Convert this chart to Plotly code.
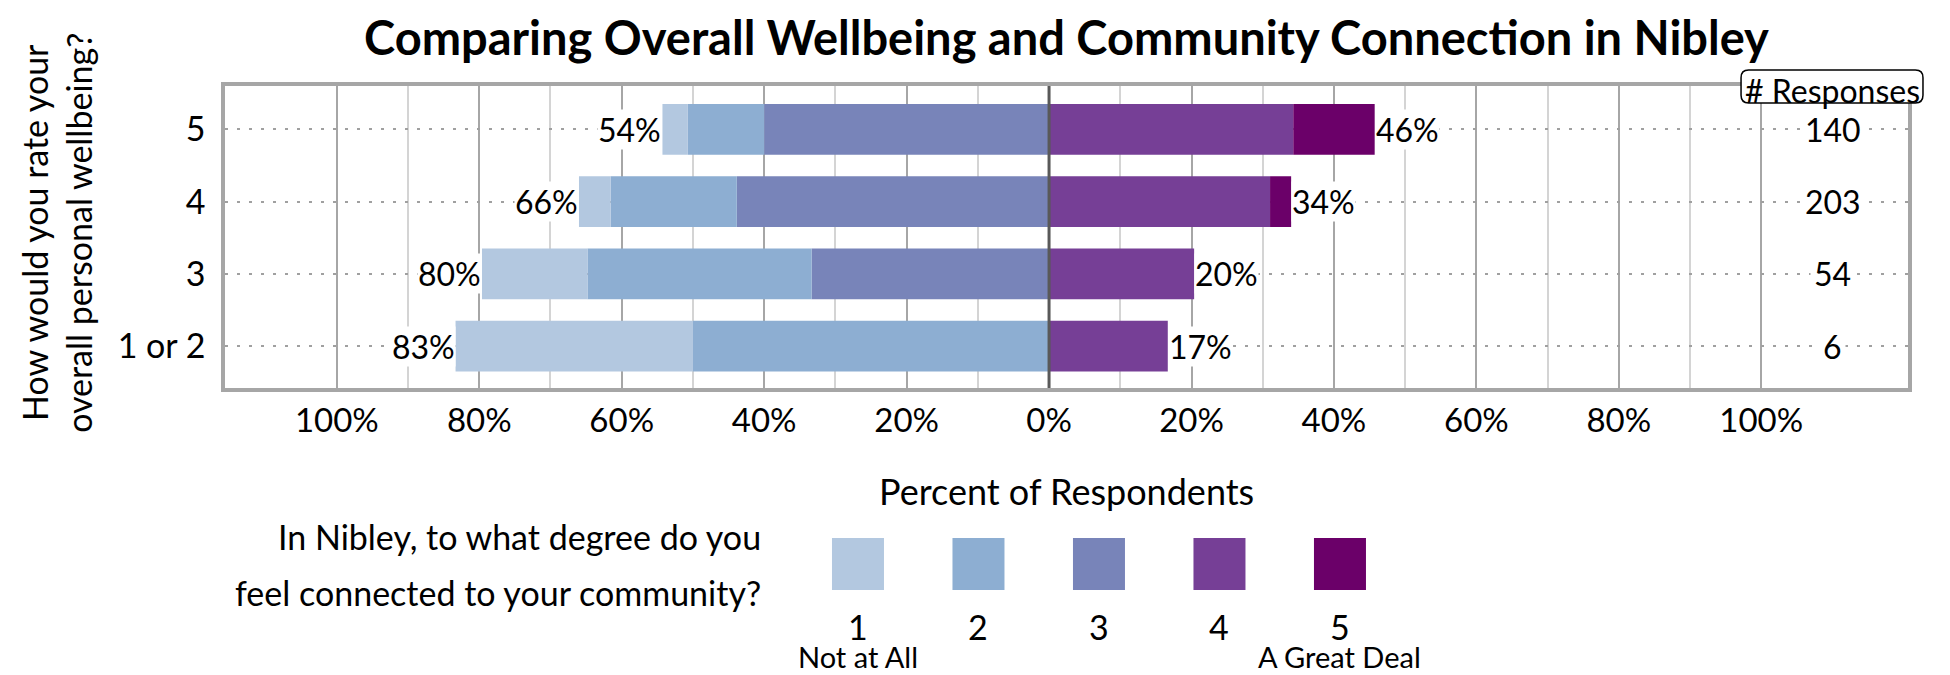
import plotly.graph_objects as go

# wellbeing rating rows (bottom to top) and number of responses in each
rows = ["1 or 2", "3", "4", "5"]
n_responses = [6, 54, 203, 140]

# community connection levels, legend text and colours
levels = [1, 2, 3, 4, 5]
level_notes = ["Not at All", "", "", "", "A Great Deal"]
colors = ["#B3C8E0", "#8DAED2", "#7884B9", "#763F96", "#6B0069"]

# percent of respondents answering each connection level, per row
pct_1 = [33.33, 14.81, 4.43, 3.57]
pct_2 = [50.00, 31.48, 17.73, 10.71]
pct_3 = [0.00, 33.33, 43.84, 40.00]
pct_4 = [16.67, 20.37, 31.03, 34.29]
pct_5 = [0.00, 0.00, 2.96, 11.43]

tick_vals = [-100, -80, -60, -40, -20, 0, 20, 40, 60, 80, 100]
minor_vals = [-90, -70, -50, -30, -10, 10, 30, 50, 70, 90]

FONT = "Lato"
TXT = 34

fig = go.Figure()

# low connection (1-3) to the left of zero, closest level first
for lvl, vals in [(3, pct_3), (2, pct_2), (1, pct_1)]:
    fig.add_trace(go.Bar(
        y=rows, x=[-v for v in vals], orientation="h",
        marker_color=colors[lvl - 1], marker_line_width=0,
        width=0.7, name=str(lvl), showlegend=False, hoverinfo="skip"))

# high connection (4-5) to the right
for lvl, vals in [(4, pct_4), (5, pct_5)]:
    fig.add_trace(go.Bar(
        y=rows, x=vals, orientation="h",
        marker_color=colors[lvl - 1], marker_line_width=0,
        width=0.7, name=str(lvl), showlegend=False, hoverinfo="skip"))

# legend swatches on their own hidden axes
fig.add_trace(go.Scatter(
    x=levels, y=[0] * len(levels), xaxis="x2", yaxis="y2",
    mode="markers", marker=dict(symbol="square", size=52, color=colors, line_width=0),
    showlegend=False, hoverinfo="skip"))

annotations = []

# total percent labels at the end of each side, counts on the right
# (category axis: annotations use the row index)
for i, row in enumerate(rows):
    left = pct_1[i] + pct_2[i] + pct_3[i]
    right = pct_4[i] + pct_5[i]
    annotations.append(dict(x=-left, y=i, xref="x", yref="y", text=f"{left:.0f}%",
                            showarrow=False, xanchor="right", yanchor="middle",
                            bgcolor="white", borderpad=0,
                            font=dict(size=32, color="black")))
    annotations.append(dict(x=right, y=i, xref="x", yref="y", text=f"{right:.0f}%",
                            showarrow=False, xanchor="left", yanchor="middle",
                            bgcolor="white", borderpad=0,
                            font=dict(size=32, color="black")))
    annotations.append(dict(x=110, y=i, xref="x", yref="y", text=str(n_responses[i]),
                            showarrow=False, xanchor="center", yanchor="middle",
                            bgcolor="white", borderpad=3,
                            font=dict(size=32, color="black")))

annotations.append(dict(x=110, y=0.992, xref="x", yref="paper", text="# Responses",
                        showarrow=False, xanchor="center", yanchor="middle",
                        font=dict(size=32, color="black")))

# axis titles
annotations.append(dict(x=0.5, y=0.289, xref="paper", yref="paper",
                        text="Percent of Respondents", showarrow=False,
                        xanchor="center", yanchor="middle",
                        font=dict(size=36, color="black")))
annotations.append(dict(x=-0.0998, y=0.742, xref="paper", yref="paper",
                        text="How would you rate your<br>overall personal wellbeing?",
                        textangle=-90, showarrow=False,
                        xanchor="center", yanchor="middle",
                        font=dict(size=TXT, color="black")))

# legend text (two lines, spaced like the original)
for text, yy in [("In Nibley, to what degree do you", 0.2074),
                 ("feel connected to your community?", 0.1107)]:
    annotations.append(dict(x=0.3197, y=yy, xref="paper", yref="paper", text=text,
                            showarrow=False, xanchor="right", yanchor="middle",
                            font=dict(size=TXT, color="black")))
for lvl, note in zip(levels, level_notes):
    annotations.append(dict(x=lvl, y=0.0495, xref="x2", yref="paper", text=str(lvl),
                            showarrow=False, xanchor="center", yanchor="middle",
                            font=dict(size=TXT, color="black")))
    if note:
        annotations.append(dict(x=lvl, y=-0.003, xref="x2", yref="paper", text=note,
                                showarrow=False, xanchor="center", yanchor="middle",
                                font=dict(size=29, color="black")))

# rounded box behind "# Responses"
bx0, bx1, by0, by1 = 0.9008, 1.0089, 0.9701, 1.0281
rx, ry = 0.0045, 0.0135
box_path = (f"M {bx0 + rx},{by0} L {bx1 - rx},{by0} Q {bx1},{by0} {bx1},{by0 + ry} "
            f"L {bx1},{by1 - ry} Q {bx1},{by1} {bx1 - rx},{by1} "
            f"L {bx0 + rx},{by1} Q {bx0},{by1} {bx0},{by1 - ry} "
            f"L {bx0},{by0 + ry} Q {bx0},{by0} {bx0 + rx},{by0} Z")

fig.update_layout(
    width=1950, height=675,
    margin=dict(l=225, r=42, t=86, b=20),
    paper_bgcolor="white", plot_bgcolor="white",
    barmode="relative",
    font=dict(family=FONT, size=TXT, color="black"),
    title=dict(text="<b>Comparing Overall Wellbeing and Community Connection in Nibley</b>",
               x=0.5, xref="paper", xanchor="center",
               y=1 - 39 / 675, yref="container", yanchor="middle",
               font=dict(family=FONT, size=47, color="black")),
    annotations=annotations,
    shapes=[
        dict(type="line", xref="x", yref="paper", x0=0, x1=0, y0=0.4692, y1=1,
             line=dict(color="#595959", width=3), layer="above"),
        dict(type="path", xref="paper", yref="paper", path=box_path,
             fillcolor="white", line=dict(color="black", width=1.5), layer="above"),
    ],
    xaxis=dict(
        domain=[0, 1], anchor="y",
        range=[-115.7, 120.6],
        tickmode="array", tickvals=tick_vals,
        ticktext=[f"{abs(v)}%" for v in tick_vals],
        ticks="", ticklabelstandoff=1,
        showgrid=True, gridcolor="#A6A6A6", gridwidth=2,
        minor=dict(tickmode="array", tickvals=minor_vals, showgrid=True,
                   gridcolor="#D4D4D4", gridwidth=1.5, ticks=""),
        zeroline=False,
        showline=True, mirror=True, linecolor="#A6A6A6", linewidth=3.5,
        tickfont=dict(size=33, color="black"), fixedrange=True),
    yaxis=dict(
        domain=[0.4692, 1], anchor="x", type="category", categoryorder="array",
        categoryarray=rows, range=[-0.58, 3.6],
        ticks="", ticklabelstandoff=9,
        showgrid=True, gridcolor="#A0A0A0", gridwidth=1.5, griddash="3px,9px",
        zeroline=False,
        showline=True, mirror=True, linecolor="#A6A6A6", linewidth=3.5,
        tickfont=dict(size=TXT, color="black"), fixedrange=True),
    xaxis2=dict(domain=[0, 1], anchor="y2", range=[-4.253, 9.714],
                visible=False, fixedrange=True),
    yaxis2=dict(domain=[0.10, 0.22], anchor="x2", range=[-1, 1],
                visible=False, fixedrange=True),
)

# drop the browser's default body margin so the figure sits at the page corner
fig.write_html("out.html", config={"displayModeBar": False},
               post_script="document.body.style.margin='0';")
